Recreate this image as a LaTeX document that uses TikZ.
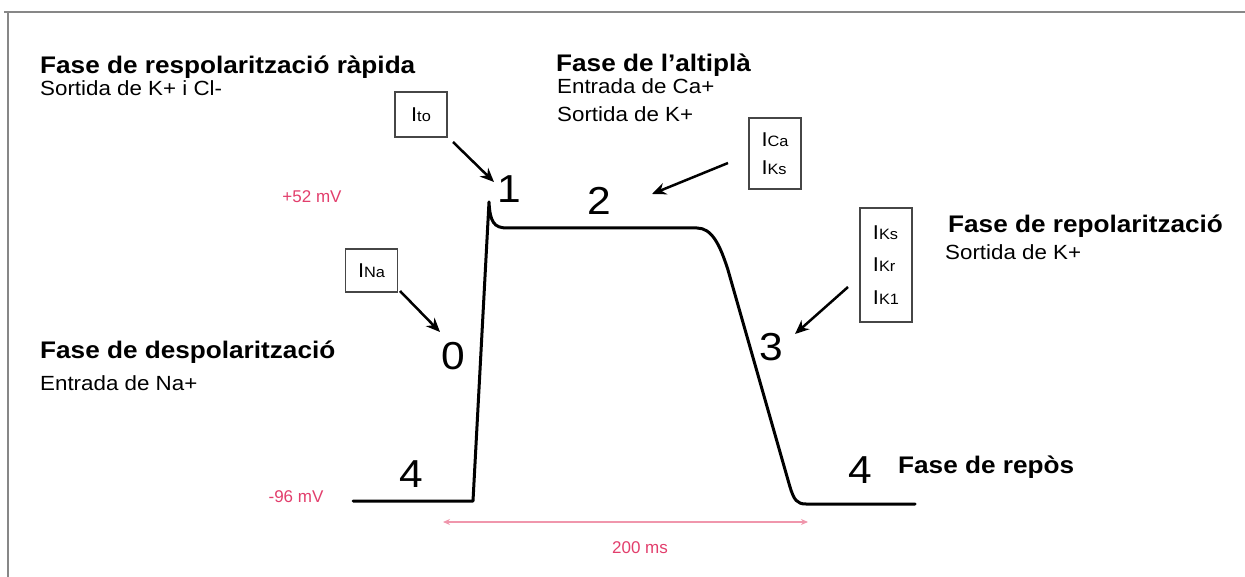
\documentclass[tikz,border=0pt]{standalone}
\usepackage{fontspec}
\setmainfont{Liberation Sans}[FakeStretch=1.09]
\newfontfamily\pinkfont{Liberation Sans}
\usetikzlibrary{arrows.meta}
\definecolor{pinktxt}{RGB}{226,62,108}
\definecolor{pinkline}{RGB}{240,150,172}
\definecolor{framegray}{RGB}{135,135,135}
\definecolor{boxgray}{RGB}{70,70,70}
\newcommand{\Icur}[1]{{\fontsize{20}{20}\selectfont I}{\fontsize{15}{15}\selectfont #1}}
\begin{document}
\begin{tikzpicture}[x=1pt,y=-1pt,
  head/.style={anchor=base west,inner sep=0pt,font=\fontsize{24}{24}\selectfont\bfseries},
  sub/.style={anchor=base west,inner sep=0pt,font=\fontsize{20.5}{20.5}\selectfont},
  digit/.style={inner sep=0pt,font=\fontsize{39}{39}\selectfont},
  mv/.style={inner sep=0pt,text=pinktxt,font=\pinkfont\fontsize{17}{17}\selectfont},
  cbox/.style={draw=boxgray,line width=1.3pt,inner sep=0pt,minimum width=52pt},
  curarrow/.style={line width=2.5pt,-{Stealth[length=14pt,width=12pt]}},
  apcurve/.style={line width=3pt,line cap=round,line join=round},
  dimline/.style={draw=pinkline,line width=1.6pt,{Stealth[length=7pt,width=6pt,fill=pinkline!70!gray]}-{Stealth[length=7pt,width=6pt,fill=pinkline!70!gray]}}
]
\useasboundingbox (0,0) rectangle (1245,577);
% frame
\draw[framegray,line width=2.8pt] (4,12) -- (1245,12);
\draw[framegray,line width=2.8pt] (8,12) -- (8,577);

% headings
\node[head] (h1) at (40,74) {Fase de respolarització ràpida};
\node[sub]  (s1) at (40,96) {Sortida de K+ i Cl-};
\node[head] (h2) at (556,72) {Fase de l’altiplà};
\node[sub]  (s2a) at (557,94) {Entrada de Ca+};
\node[sub]  (s2b) at (557,122) {Sortida de K+};
\node[head] (h3) at (948,233) {Fase de repolarització};
\node[sub]  (s3) at (945,260) {Sortida de K+};
\node[head] (h0) at (40,358) {Fase de despolarització};
\node[sub]  (s0) at (40,390) {Entrada de Na+};
\node[head] (h4) at (898,473) {Fase de repòs};

% voltage labels
\node[mv] (vp) at (312,197) {+52 mV};
\node[mv] (vm) at (296,497) {-96 mV};

% action potential curve
\coordinate (c0) at (353,501);
\coordinate (c1) at (473,501);
\coordinate (c2) at (489,202);
\coordinate (c3) at (507,228);
\coordinate (c4) at (697,228);
\coordinate (c5) at (728,270);
\coordinate (c6) at (790,487);
\coordinate (c7) at (806,504);
\coordinate (c8) at (915,504);
\draw[apcurve] (c0) -- (c1) -- (c2)
  .. controls (490,222) and (494,228) .. (c3) -- (c4)
  .. controls (712,228) and (720,245) .. (c5) -- (c6)
  .. controls (794,500) and (797,504) .. (c7) -- (c8);

% phase digits
\node[digit] (d1) at (509,189) {1};
\node[digit] (d2) at (599,201) {2};
\node[digit] (d0) at (453,356) {0};
\node[digit] (d3) at (771,347) {3};
\node[digit] (d4a) at (411,474) {4};
\node[digit] (d4b) at (860,470) {4};

% current boxes
\node[cbox,minimum height=45pt] (ito) at (421,114.5) {\Icur{to}};
\node[cbox,minimum height=43pt] (ina) at (371.5,270.5) {\Icur{Na}};
\node[cbox,minimum height=71pt,align=left,font=\fontsize{20}{28}\selectfont] (ica) at (775,153.5) {\Icur{Ca}\\\Icur{Ks}};
\node[cbox,minimum height=114pt,align=left,font=\fontsize{20}{32.5}\selectfont] (ik) at (886,265) {\Icur{Ks}\\\Icur{Kr}\\\Icur{K1}};

% arrows
\coordinate (a1s) at (453,142);  \coordinate (a1e) at (494,182);
\coordinate (a0s) at (400,291);  \coordinate (a0e) at (440,332);
\coordinate (a2s) at (728,163);  \coordinate (a2e) at (652,194);
\coordinate (a3s) at (848,287);  \coordinate (a3e) at (795,334);
\draw[curarrow] (a1s) -- (a1e);
\draw[curarrow] (a0s) -- (a0e);
\draw[curarrow] (a2s) -- (a2e);
\draw[curarrow] (a3s) -- (a3e);

% duration
\coordinate (t0) at (443,522);
\coordinate (t1) at (808,522);
\draw[dimline] (t0) -- (t1);
\node[mv] (dur) at (640,548) {200 ms};
\end{tikzpicture}
\end{document}
